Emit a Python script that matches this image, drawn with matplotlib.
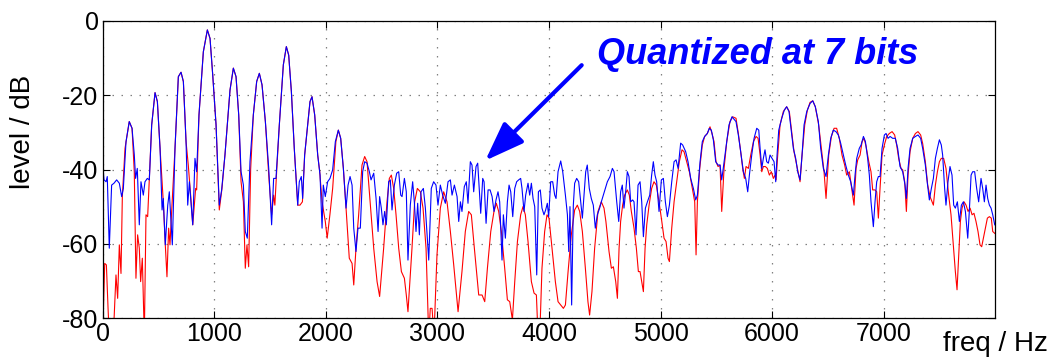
import numpy as np
import matplotlib
matplotlib.use("Agg")
import matplotlib.pyplot as plt

# spectrum: original signal (red) and 7-bit quantized (blue)
red_freq = [0, 18, 33, 48, 59, 95, 119, 134, 149, 164, 176, 200, 238, 263, 283, 298, 313, 328, 340, 355,
            373, 388, 403, 418, 439, 469, 490, 514, 543, 561, 576, 591, 603, 618, 648, 678, 702, 723, 747, 767,
            788, 807, 833, 842, 863, 902, 938, 962, 986, 1016, 1045, 1069, 1096, 1141, 1171, 1195, 1219, 1240,
            1261, 1278, 1293, 1308, 1326, 1350, 1380, 1404, 1428, 1458, 1488, 1514, 1532, 1543, 1560, 1583,
            1619, 1646, 1667, 1691, 1717, 1748, 1768, 1790, 1810, 1837, 1858, 1876, 1900, 1927, 1945, 1966,
            1995, 2012, 2037, 2061, 2090, 2112, 2133, 2157, 2181, 2210, 2235, 2250, 2270, 2294, 2324, 2348,
            2369, 2399, 2429, 2459, 2482, 2518, 2548, 2569, 2587, 2608, 2629, 2653, 2677, 2704, 2721, 2736,
            2772, 2796, 2820, 2847, 2871, 2898, 2922, 2936, 2952, 2969, 2996, 3026, 3056, 3086, 3116, 3146,
            3185, 3220, 3250, 3280, 3304, 3331, 3370, 3400, 3424, 3448, 3478, 3507, 3528, 3549, 3573, 3603,
            3627, 3648, 3672, 3693, 3717, 3746, 3767, 3788, 3812, 3842, 3866, 3887, 3902, 3917, 3937, 3961,
            3982, 4000, 4021, 4057, 4081, 4105, 4129, 4147, 4171, 4200, 4230, 4254, 4275, 4299, 4326, 4349,
            4364, 4385, 4409, 4439, 4469, 4493, 4510, 4538, 4559, 4577, 4598, 4613, 4628, 4642, 4660, 4678,
            4702, 4720, 4738, 4762, 4783, 4801, 4816, 4831, 4846, 4861, 4876, 4897, 4920, 4941, 4962, 4986,
            5007, 5031, 5049, 5067, 5079, 5100, 5121, 5145, 5168, 5192, 5210, 5234, 5258, 5285, 5306, 5318,
            5330, 5351, 5374, 5395, 5419, 5443, 5461, 5479, 5497, 5515, 5533, 5548, 5569, 5593, 5622, 5646,
            5676, 5697, 5718, 5736, 5751, 5766, 5787, 5808, 5832, 5856, 5874, 5892, 5907, 5921, 5939, 5957,
            5975, 5993, 6011, 6026, 6035, 6050, 6071, 6100, 6130, 6154, 6175, 6196, 6220, 6250, 6268, 6292,
            6316, 6340, 6364, 6387, 6417, 6441, 6465, 6483, 6507, 6531, 6555, 6578, 6602, 6626, 6650, 6668,
            6692, 6713, 6734, 6752, 6767, 6788, 6806, 6824, 6842, 6866, 6886, 6901, 6922, 6937, 6952, 6967,
            6985, 7009, 7027, 7050, 7075, 7098, 7116, 7134, 7155, 7170, 7188, 7203, 7218, 7236, 7260, 7284,
            7307, 7331, 7349, 7373, 7394, 7415, 7433, 7445, 7463, 7481, 7499, 7516, 7537, 7558, 7582, 7603,
            7624, 7642, 7657, 7672, 7687, 7702, 7720, 7738, 7756, 7774, 7792, 7809, 7827, 7845, 7863, 7878,
            7893, 7911, 7929, 7947, 7964, 7977, 7995]
red_db = [-85, -65.3, -65.7, -77.4, -85, -85, -68.4, -74.7, -60.3, -68.0, -47.3, -34.3, -27.1, -28.9, -40.6,
          -69.3, -57.6, -61.2, -70.2, -63.9, -85, -52.2, -52.7, -42.4, -28.0, -19.3, -21.7, -34.3, -48.7,
          -60.3, -68.9, -55.8, -60.3, -51.3, -34.3, -15.0, -13.8, -16.3, -32.5, -38.8, -46.9, -54.9, -45.1,
          -45.5, -25.3, -8.3, -2.4, -4.7, -14.5, -28.0, -50.9, -45.1, -36.0, -18.6, -12.7, -15.0, -25.3,
          -43.3, -48.7, -66.6, -60.3, -66.2, -40.0, -25.3, -16.3, -14.1, -17.2, -27.1, -41.5, -52.2, -46.9,
          -49.6, -40.0, -28.0, -11.8, -6.9, -9.2, -19.0, -34.3, -49.6, -49.6, -48.7, -36.1, -28.0, -21.7,
          -20.4, -25.3, -36.1, -40.6, -48.7, -54.0, -58.5, -52.0, -45.1, -32.5, -29.4, -31.6, -39.7, -50.4,
          -63.9, -65.3, -71.1, -61.2, -52.2, -38.8, -36.5, -37.9, -49.6, -61.2, -70.2, -74.2, -61.2, -48.7,
          -42.4, -41.5, -45.1, -52.2, -61.2, -67.5, -69.3, -73.8, -78.3, -61.2, -48.7, -45.1, -46.0, -50.4,
          -61.2, -85, -77.4, -77.4, -85, -63.0, -50.4, -46.0, -48.7, -56.7, -65.7, -78.3, -67.5, -56.7, -51.3,
          -52.2, -61.2, -73.8, -73.8, -75.6, -66.6, -56.7, -51.3, -49.1, -51.3, -56.7, -66.6, -75.1, -75.6,
          -80.5, -70.2, -59.4, -52.2, -50.0, -52.2, -59.4, -70.2, -73.3, -73.8, -85, -85, -66.6, -56.7, -52.2,
          -53.1, -59.4, -70.2, -75.6, -76.5, -77.4, -76.5, -67.5, -57.6, -50.9, -49.6, -51.3, -56.7, -66.6,
          -75.6, -79.2, -72.9, -61.2, -51.3, -48.7, -50.4, -54.0, -62.1, -66.6, -66.2, -70.2, -74.7, -61.2,
          -54.0, -49.6, -46.9, -45.5, -46.9, -51.3, -55.8, -61.2, -67.5, -67.5, -70.2, -72.9, -61.2, -54.9,
          -49.6, -45.1, -43.3, -44.2, -48.7, -53.1, -58.5, -59.4, -63.9, -64.8, -55.8, -48.7, -43.3, -37.9,
          -34.7, -35.2, -37.9, -40.6, -45.1, -48.7, -63.0, -48.7, -39.7, -33.4, -31.1, -30.3, -28.5, -30.3,
          -32.5, -37.9, -39.2, -38.8, -51.3, -39.7, -32.5, -27.1, -25.8, -26.2, -30.3, -35.2, -39.7, -42.4,
          -39.2, -39.7, -36.1, -32.5, -31.1, -31.6, -36.1, -40.6, -39.2, -39.2, -39.7, -41.5, -40.6, -42.4,
          -41.5, -42.8, -36.1, -28.0, -24.4, -23.1, -24.4, -29.8, -35.2, -38.8, -43.3, -36.1, -28.0, -24.0,
          -21.9, -21.5, -23.1, -28.0, -34.3, -40.6, -47.8, -36.1, -31.1, -28.9, -28.9, -31.6, -36.1, -38.8,
          -41.5, -40.6, -45.1, -49.6, -39.7, -37.4, -36.1, -32.5, -31.6, -33.8, -37.9, -40.6, -45.5, -45.5,
          -46.0, -53.1, -45.1, -36.1, -33.0, -31.1, -30.3, -29.8, -30.7, -33.4, -37.0, -39.7, -40.1, -43.3,
          -51.3, -41.5, -35.2, -31.6, -30.3, -29.8, -30.7, -33.0, -37.9, -44.2, -47.3, -48.7, -49.6, -44.2,
          -40.6, -37.9, -37.0, -37.0, -39.7, -46.9, -52.2, -60.3, -67.5, -72.4, -63.0, -54.0, -50.4, -48.7,
          -49.6, -51.3, -50.4, -52.2, -51.8, -54.0, -56.7, -60.3, -60.8, -58.5, -55.8, -53.1, -52.7, -53.1,
          -56.7, -57.2]

blue_freq = [0, 12, 30, 41, 59, 80, 101, 125, 149, 170, 185, 209, 238, 263, 283, 295, 310, 328, 343, 364,
             379, 400, 418, 439, 469, 490, 514, 532, 543, 561, 583, 597, 609, 624, 648, 678, 702, 723, 747,
             762, 777, 807, 827, 842, 863, 902, 938, 962, 986, 1016, 1045, 1066, 1096, 1141, 1171, 1195, 1219,
             1240, 1261, 1278, 1296, 1320, 1350, 1380, 1404, 1428, 1458, 1488, 1514, 1532, 1553, 1583, 1619,
             1646, 1667, 1691, 1717, 1748, 1762, 1780, 1792, 1810, 1837, 1858, 1876, 1900, 1927, 1948, 1966,
             1977, 1995, 2016, 2037, 2061, 2085, 2112, 2133, 2157, 2181, 2199, 2217, 2235, 2250, 2270, 2288,
             2309, 2330, 2348, 2369, 2390, 2405, 2429, 2450, 2468, 2482, 2497, 2512, 2527, 2542, 2563, 2578,
             2593, 2614, 2635, 2653, 2671, 2683, 2704, 2721, 2736, 2757, 2778, 2793, 2808, 2823, 2838, 2853,
             2874, 2892, 2922, 2945, 2966, 2987, 3005, 3026, 3047, 3071, 3095, 3116, 3131, 3152, 3176, 3191,
             3206, 3220, 3241, 3259, 3274, 3295, 3310, 3325, 3346, 3361, 3388, 3406, 3418, 3436, 3454, 3472,
             3490, 3507, 3525, 3543, 3558, 3579, 3591, 3609, 3627, 3642, 3657, 3675, 3693, 3710, 3728, 3746,
             3758, 3776, 3791, 3812, 3827, 3842, 3857, 3872, 3890, 3905, 3922, 3937, 3955, 3970, 3985, 3997,
             4015, 4033, 4051, 4063, 4081, 4105, 4123, 4147, 4165, 4177, 4188, 4203, 4218, 4230, 4248, 4266,
             4284, 4299, 4314, 4329, 4343, 4361, 4379, 4397, 4415, 4433, 4454, 4469, 4487, 4505, 4523, 4547,
             4568, 4583, 4607, 4625, 4642, 4657, 4672, 4690, 4702, 4717, 4732, 4750, 4762, 4780, 4798, 4816,
             4831, 4846, 4864, 4882, 4903, 4920, 4935, 4950, 4965, 4986, 5007, 5025, 5043, 5061, 5079, 5100,
             5121, 5139, 5157, 5180, 5198, 5225, 5246, 5270, 5294, 5315, 5330, 5354, 5374, 5395, 5419, 5437,
             5455, 5473, 5494, 5515, 5533, 5548, 5569, 5593, 5613, 5640, 5676, 5697, 5718, 5742, 5763, 5781,
             5796, 5817, 5838, 5862, 5880, 5892, 5907, 5921, 5936, 5951, 5966, 5981, 5999, 6017, 6032, 6044,
             6059, 6086, 6109, 6130, 6151, 6169, 6190, 6211, 6229, 6250, 6268, 6286, 6310, 6340, 6364, 6387,
             6414, 6435, 6459, 6483, 6504, 6525, 6548, 6572, 6593, 6614, 6638, 6659, 6683, 6704, 6728, 6743,
             6758, 6781, 6797, 6818, 6836, 6856, 6871, 6886, 6907, 6922, 6937, 6952, 6967, 6985, 7006, 7021,
             7039, 7057, 7080, 7104, 7125, 7146, 7170, 7191, 7203, 7218, 7236, 7260, 7284, 7307, 7331, 7349,
             7373, 7391, 7409, 7427, 7445, 7463, 7481, 7499, 7516, 7528, 7546, 7558, 7576, 7594, 7612, 7627,
             7642, 7660, 7678, 7696, 7714, 7732, 7753, 7767, 7783, 7797, 7815, 7833, 7851, 7872, 7887, 7902,
             7917, 7932, 7947, 7962, 7977, 7995]
blue_db = [-38.8, -42.8, -43.3, -41.9, -61.2, -44.2, -43.7, -42.8, -43.7, -47.3, -45.1, -32.5, -27.1, -28.9,
           -36.0, -42.4, -39.7, -54.9, -43.3, -46.9, -43.3, -42.4, -42.8, -28.0, -19.3, -21.7, -34.3, -50.9,
           -47.8, -60.3, -49.6, -46.0, -52.2, -60.3, -34.3, -15.0, -13.8, -16.3, -32.5, -49.6, -43.3, -54.9,
           -37.0, -40.6, -25.3, -8.3, -2.4, -4.7, -14.5, -28.0, -49.6, -45.5, -36.0, -18.6, -12.7, -15.0,
           -25.3, -40.6, -44.2, -56.7, -58.5, -37.9, -25.3, -16.3, -14.1, -17.2, -27.1, -39.7, -54.9, -42.4,
           -42.4, -28.0, -11.8, -6.9, -9.2, -19.0, -34.3, -49.6, -43.3, -41.9, -47.8, -36.1, -28.0, -21.7,
           -20.4, -25.3, -36.1, -41.5, -55.8, -44.2, -47.3, -43.3, -42.4, -40.1, -32.5, -29.4, -31.6, -39.7,
           -50.4, -44.2, -41.9, -44.2, -55.8, -62.1, -55.8, -55.8, -40.6, -37.9, -38.3, -40.6, -42.8, -41.0,
           -47.8, -56.7, -47.3, -50.4, -54.9, -51.3, -54.9, -43.3, -42.8, -50.9, -44.2, -41.0, -40.6, -46.9,
           -47.3, -42.4, -46.0, -64.4, -49.6, -43.3, -48.7, -56.7, -49.1, -57.6, -46.0, -45.1, -50.4, -64.4,
           -45.1, -43.3, -44.2, -49.6, -44.2, -46.9, -49.1, -43.3, -42.8, -46.9, -44.2, -47.3, -54.0, -48.7,
           -51.3, -44.6, -43.3, -49.1, -37.9, -38.8, -46.0, -39.2, -38.3, -51.8, -42.4, -43.3, -54.5, -45.5,
           -45.5, -47.3, -51.3, -48.2, -46.0, -48.7, -64.4, -52.2, -58.5, -48.7, -44.2, -46.0, -52.7, -45.1,
           -43.3, -42.8, -42.4, -45.1, -51.3, -46.9, -43.7, -46.9, -43.7, -47.8, -50.0, -68.4, -46.0, -45.5,
           -50.4, -52.2, -50.9, -49.1, -52.7, -43.3, -43.3, -46.9, -47.8, -40.6, -37.7, -40.6, -46.9, -52.2,
           -62.1, -50.0, -76.5, -49.6, -43.7, -42.4, -43.3, -48.7, -53.1, -46.9, -40.6, -38.8, -45.1, -47.8,
           -49.6, -55.8, -52.2, -50.4, -48.7, -46.9, -45.1, -43.3, -41.9, -39.7, -40.6, -48.7, -54.0, -46.0,
           -44.2, -50.4, -45.1, -40.6, -41.9, -48.7, -48.2, -48.7, -57.6, -44.2, -43.3, -48.7, -58.1, -50.4,
           -48.7, -46.9, -41.5, -37.9, -41.5, -43.3, -51.3, -42.8, -42.4, -48.7, -52.7, -49.6, -43.3, -37.9,
           -37.4, -39.7, -32.9, -33.4, -35.2, -37.9, -42.4, -45.1, -48.2, -46.9, -37.9, -32.5, -31.1, -30.3,
           -28.9, -29.4, -32.0, -37.9, -38.8, -38.8, -42.8, -37.9, -32.5, -28.0, -25.8, -27.1, -30.7, -35.2,
           -40.6, -42.4, -46.0, -41.5, -36.1, -31.6, -28.9, -29.4, -34.3, -39.7, -37.0, -34.7, -37.9, -38.3,
           -36.1, -37.0, -37.9, -43.3, -36.1, -29.4, -26.2, -24.0, -23.1, -24.4, -28.9, -34.3, -37.0, -40.6,
           -42.8, -36.1, -28.0, -24.4, -22.2, -21.5, -23.1, -27.1, -34.3, -39.7, -41.9, -36.1, -31.6, -29.4,
           -29.8, -30.7, -32.9, -36.1, -38.8, -41.5, -43.3, -46.9, -41.5, -37.0, -34.3, -33.4, -31.1, -32.5,
           -37.0, -41.5, -48.7, -55.4, -48.7, -43.3, -41.9, -41.9, -34.3, -30.7, -30.3, -31.6, -31.1, -31.6,
           -31.6, -34.3, -39.2, -40.6, -44.2, -47.8, -39.7, -34.3, -31.6, -31.1, -30.7, -31.6, -34.3, -38.8,
           -43.7, -48.2, -45.1, -42.4, -37.0, -34.3, -32.0, -33.4, -36.1, -45.1, -49.6, -43.3, -39.2, -41.5,
           -49.6, -50.4, -48.7, -54.0, -49.6, -48.7, -51.3, -58.5, -51.3, -41.5, -40.6, -40.6, -45.1, -48.7,
           -42.4, -45.1, -48.7, -44.2, -47.8, -49.6, -50.4, -52.2, -54.9]

xticks = [0, 1000, 2000, 3000, 4000, 5000, 6000, 7000]
yticks = [-80, -60, -40, -20, 0]

plt.rcParams['font.family'] = ['Liberation Sans', 'DejaVu Sans']
plt.rcParams['axes.unicode_minus'] = False

fig = plt.figure(figsize=(10.51, 3.57), dpi=100)
ax = fig.add_axes([102.7 / 1051, 1 - 318 / 357, 892.6 / 1051, 297 / 357])

ax.plot(red_freq, red_db, color='red', lw=0.8)
ax.plot(blue_freq, blue_db, color='blue', lw=0.8)

ax.set_xlim(0, 8000)
ax.set_ylim(-80, 0)
ax.set_xticks(xticks)
ax.set_yticks(yticks)
ax.tick_params(direction='in', top=True, right=True, length=5, width=0.8, pad=3, labelsize=18)
ax.grid(True, color='0.5', linestyle=(0, (1.2, 6)), lw=0.9)
for s in ax.spines.values():
    s.set_linewidth(0.9)

fig.text(23 / 1051, 1 - 132 / 357, 'level / dB', rotation=90, ha='center', va='center', fontsize=20)
fig.text(943 / 1051, 6 / 357, 'freq / Hz', ha='left', va='baseline', fontsize=20)

# annotation
ax.text(4434, -11.6, 'Quantized at 7 bits', color='blue', fontsize=26,
        fontweight='bold', fontstyle='italic', ha='left', va='baseline')
ax.annotate('', xy=(3429, -37.6), xytext=(4293, -11.9),
            arrowprops=dict(arrowstyle='-|>,head_length=1.5,head_width=0.55', color='blue',
                            lw=3, shrinkA=0, shrinkB=0, mutation_scale=16))

plt.savefig('out.png', dpi=100)
